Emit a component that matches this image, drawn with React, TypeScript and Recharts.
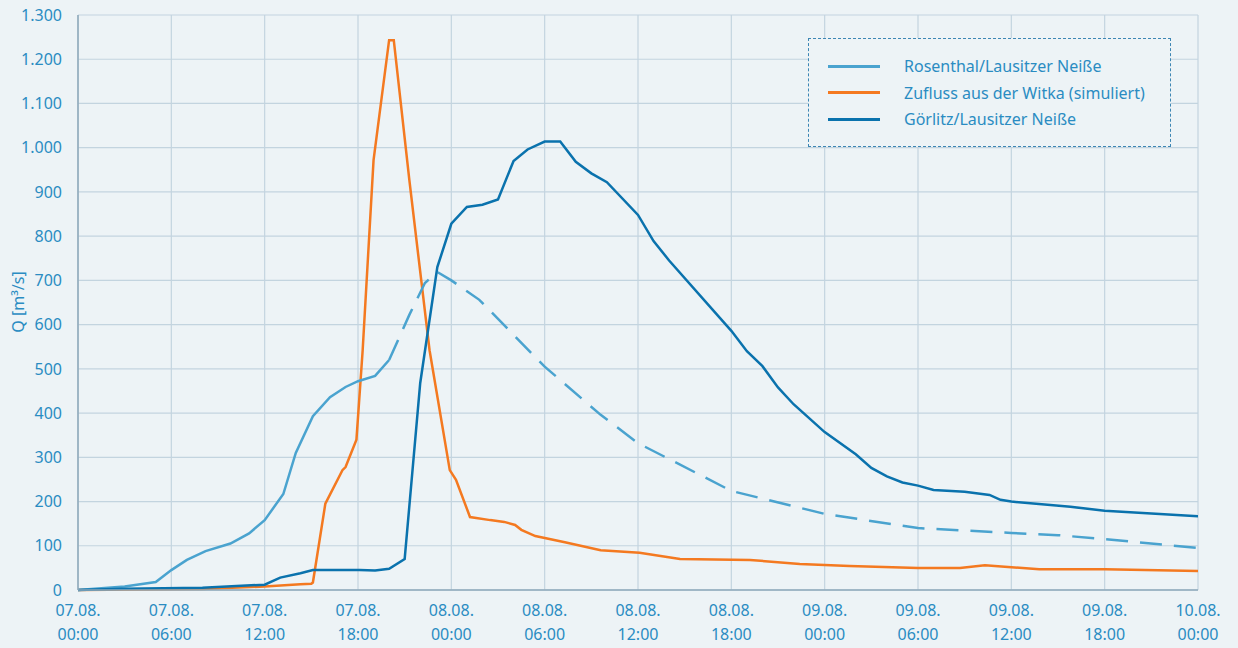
import React from 'react';
import { LineChart, Line, XAxis, YAxis, CartesianGrid } from 'recharts';

// hours since 07.08. 00:00 -> discharge in m³/s
const rosenthalSolid: [number, number][] = [
  [0, 0], [3, 8], [5, 18], [6, 45], [7, 68], [8.2, 88], [9.8, 105], [11, 128],
  [12, 158], [13.2, 217], [14, 310], [15.1, 393], [16.2, 436], [17.2, 459],
  [18, 472], [19.1, 484], [20, 520],
];
const rosenthalDashed: [number, number][] = [
  [20, 520], [21.3, 622], [22.3, 694], [23.1, 719], [24, 700], [25.8, 656],
  [30, 505], [33.6, 396], [36, 332], [42, 224], [48, 172], [54, 140],
  [60, 129], [63, 124], [66, 115], [72, 95],
];
const witka: [number, number][] = [
  [0, 0], [8, 2], [12, 8], [14.3, 13], [15, 14], [15.1, 17], [15.9, 195],
  [17, 271], [17.2, 278], [17.9, 340], [18.3, 542], [19, 972], [20, 1243],
  [20.3, 1243], [21.3, 927], [22.6, 542], [23.9, 271], [24.3, 249],
  [25.2, 165], [26.5, 158], [27.4, 154], [28.1, 147], [28.5, 136],
  [29.4, 122], [31.3, 108], [33.6, 90], [36.1, 84], [38.7, 70], [43.2, 68],
  [46.4, 59], [49.6, 54], [54, 50], [56.7, 50], [58.3, 56], [61.8, 47],
  [66, 47], [72, 43],
];
const goerlitz: [number, number][] = [
  [0, 0], [3, 3], [8, 5], [12, 12], [13, 28], [14.3, 38], [15.1, 45],
  [18.1, 45], [19.1, 44], [20, 48], [21, 70], [22, 468], [23.1, 730],
  [24, 828], [25, 866], [26, 871], [27, 883], [28, 970], [28.9, 996],
  [30, 1014], [31, 1014], [32, 968], [33, 942], [34, 922], [36, 848],
  [37, 789], [38, 745], [42, 586], [43, 540], [44, 506], [45, 458],
  [46, 420], [48, 357], [50, 307], [51, 276], [52, 257], [53, 243],
  [54, 236], [55, 226], [57, 222], [58.6, 215], [59.3, 204], [60, 200],
  [63.8, 188], [66, 179], [69, 173], [72, 167],
];

const xTicks = [0, 6, 12, 18, 24, 30, 36, 42, 48, 54, 60, 66, 72];
const xTickLabels = [
  ['07.08.', '00:00'], ['07.08.', '06:00'], ['07.08.', '12:00'], ['07.08.', '18:00'],
  ['08.08.', '00:00'], ['08.08.', '06:00'], ['08.08.', '12:00'], ['08.08.', '18:00'],
  ['09.08.', '00:00'], ['09.08.', '06:00'], ['09.08.', '12:00'], ['09.08.', '18:00'],
  ['10.08.', '00:00'],
];
const yTicks = [0, 100, 200, 300, 400, 500, 600, 700, 800, 900, 1000, 1100, 1200, 1300];

const legendItems = [
  { name: 'Rosenthal/Lausitzer Neiße', color: '#4aa3cf' },
  { name: 'Zufluss aus der Witka (simuliert)', color: '#f47920' },
  { name: 'Görlitz/Lausitzer Neiße', color: '#0a72ad' },
];

const FONT = '"Noto Sans", sans-serif';
const TEXT = '#2a8cc2';

const toRows = (pts: [number, number][]) => pts.map(([h, q]) => ({ h, q }));

const fmt = (v: number) => v.toLocaleString('de-DE');

const XTick = (props: any) => {
  const { x, y, payload } = props;
  const idx = xTicks.indexOf(payload.value);
  const lab = xTickLabels[idx] || ['', ''];
  return (
    <text x={x} y={y} textAnchor="middle" fill={TEXT} fontSize={16} fontFamily={FONT}>
      <tspan x={x} dy={18}>{lab[0]}</tspan>
      <tspan x={x} dy={24}>{lab[1]}</tspan>
    </text>
  );
};

const YLabel = () => (
  <text
    x={24}
    y={302}
    transform="rotate(-90 24 302)"
    textAnchor="middle"
    fill={TEXT}
    fontSize={16}
    fontFamily={FONT}
  >
    Q [m³/s]
  </text>
);

const App: React.FC = () => {
  return (
    <div style={{ position: 'absolute', left: 0, top: 0, width: 1238, height: 648, background: '#edf3f6', fontFamily: FONT }}>
      <LineChart width={1238} height={648} margin={{ top: 15, right: 40, left: 0, bottom: 0 }}>
        <CartesianGrid stroke="#c3d4df" strokeWidth={1.2} />
        <XAxis
          type="number"
          dataKey="h"
          domain={[0, 72]}
          ticks={xTicks}
          tick={<XTick />}
          tickLine={false}
          axisLine={{ stroke: '#8ea8ba', strokeWidth: 1.5 }}
          height={58}
          allowDataOverflow
        />
        <YAxis
          type="number"
          dataKey="q"
          domain={[0, 1300]}
          ticks={yTicks}
          tickFormatter={fmt}
          tick={{ fill: TEXT, fontSize: 16, fontFamily: FONT }}
          tickLine={false}
          axisLine={{ stroke: '#8ea8ba', strokeWidth: 1.5 }}
          width={78}
          tickMargin={10}
          label={<YLabel />}
        />
        <Line data={toRows(witka)} dataKey="q" type="linear" stroke="#f47920" strokeWidth={2.5} dot={false} isAnimationActive={false} />
        <Line data={toRows(rosenthalSolid)} dataKey="q" type="linear" stroke="#4aa3cf" strokeWidth={2.5} dot={false} isAnimationActive={false} />
        <Line data={toRows(rosenthalDashed)} dataKey="q" type="linear" stroke="#4aa3cf" strokeWidth={2.5} strokeDasharray="22 12" dot={false} isAnimationActive={false} />
        <Line data={toRows(goerlitz)} dataKey="q" type="linear" stroke="#0a72ad" strokeWidth={2.5} dot={false} isAnimationActive={false} />
      </LineChart>
      <div
        style={{
          position: 'absolute', left: 808, top: 38, width: 363, height: 109, boxSizing: 'border-box',
          border: '1.5px dashed #3d86b4', background: '#edf3f6',
        }}
      >
        {legendItems.map((it, i) => (
          <div key={it.name} style={{ position: 'absolute', left: 19, top: 16 + i * 26.5, display: 'flex', alignItems: 'center', height: 22 }}>
            <div style={{ width: 52, height: 3, background: it.color }} />
            <span style={{ marginLeft: 24, color: TEXT, fontSize: 16, whiteSpace: 'nowrap' }}>{it.name}</span>
          </div>
        ))}
      </div>
    </div>
  );
};

export default App;
